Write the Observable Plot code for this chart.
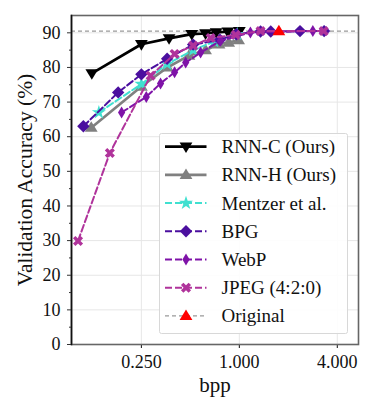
<!DOCTYPE html>
<html>
<head>
<meta charset="utf-8">
<script src="https://cdn.jsdelivr.net/npm/d3@7"></script>
<script src="https://cdn.jsdelivr.net/npm/@observablehq/plot@0.6"></script>
<style>
  html, body { margin: 0; padding: 0; background: #fff; }
  #chart svg { display: block; }
</style>
</head>
<body>
<div id="chart"></div>
<script>
// ---- data ----
const xTicks = [0.25, 1, 4];
const yTicks = [0, 10, 20, 30, 40, 50, 60, 70, 80, 90];
const yMinorTicks = [5, 15, 25, 35, 45, 55, 65, 75, 85];

const rnncBpp = [0.124, 0.25, 0.37, 0.51, 0.62, 0.72, 0.85, 1.0];
const rnncAcc = [78.3, 86.7, 88.4, 89.6, 89.8, 90.1, 90.3, 90.5];

const rnnhBpp = [0.123, 0.25, 0.361, 0.49, 0.62, 0.75, 0.86, 0.99];
const rnnhAcc = [62.6, 74.5, 80.0, 83.4, 85.0, 86.7, 87.2, 87.9];

const mentzerBpp = [0.137, 0.25, 0.36, 0.52, 0.70, 0.97];
const mentzerAcc = [67.0, 75.2, 81.0, 85.0, 87.5, 89.6];

const bpgBpp = [0.11, 0.18, 0.25, 0.36, 0.52, 0.76, 0.96, 1.35, 1.56, 2.36, 3.32];
const bpgAcc = [63.0, 72.8, 78.0, 82.5, 86.6, 88.0, 89.6, 90.4, 90.4, 90.5, 90.5];

const webpBpp = [0.189, 0.268, 0.328, 0.40, 0.468, 0.578, 0.766, 1.17, 2.83];
const webpAcc = [67.0, 71.5, 75.4, 78.6, 81.4, 84.3, 87.7, 90.1, 90.5];

const jpegBpp = [0.102, 0.16, 0.285, 0.40, 0.52, 0.666, 0.95, 1.35, 3.3];
const jpegAcc = [29.9, 55.3, 77.6, 83.9, 86.3, 88.5, 89.4, 90.5, 90.5];

const originalBpp = [1.75];
const originalAcc = [90.5];

const seriesNames = ["RNN-C (Ours)", "RNN-H (Ours)", "Mentzer et al.", "BPG", "WebP", "JPEG (4:2:0)", "Original"];

// ---- marker shapes ----
function poly(ctx, pts) {
  ctx.moveTo(pts[0][0], pts[0][1]);
  for (let i = 1; i < pts.length; i++) ctx.lineTo(pts[i][0], pts[i][1]);
  ctx.closePath();
}
const triDown = { draw(ctx, size) { const r = Math.sqrt(size / Math.PI); poly(ctx, [[-r, -0.65 * r], [r, -0.65 * r], [0, r]]); } };
const triUp = { draw(ctx, size) { const r = Math.sqrt(size / Math.PI); poly(ctx, [[-r, 0.65 * r], [r, 0.65 * r], [0, -r]]); } };
const diamond = { draw(ctx, size) { const r = Math.sqrt(size / Math.PI); poly(ctx, [[0, -r], [r, 0], [0, r], [-r, 0]]); } };
const thinDiamond = { draw(ctx, size) { const r = Math.sqrt(size / Math.PI); poly(ctx, [[0, -r], [0.6 * r, 0], [0, r], [-0.6 * r, 0]]); } };
const xFilled = { draw(ctx, size) {
  const r = Math.sqrt(size / Math.PI), w = 0.32 * r;
  const base = [[-w, -r], [w, -r], [w, -w], [r, -w], [r, w], [w, w], [w, r], [-w, r], [-w, w], [-r, w], [-r, -w], [-w, -w]];
  const c = Math.SQRT1_2;
  poly(ctx, base.map(([x, y]) => [c * (x - y), c * (x + y)]));
} };

const series = [
  { name: seriesNames[0], bpp: rnncBpp, acc: rnncAcc, color: "#000000", dash: null, width: 2.7, symbol: triDown, r: 6.4 },
  { name: seriesNames[1], bpp: rnnhBpp, acc: rnnhAcc, color: "#808080", dash: null, width: 2.7, symbol: triUp, r: 6.4 },
  { name: seriesNames[2], bpp: mentzerBpp, acc: mentzerAcc, color: "#40e0d0", dash: "7,3", width: 2, symbol: d3.symbolStar, r: 4.4 },
  { name: seriesNames[3], bpp: bpgBpp, acc: bpgAcc, color: "#4b0f9f", dash: "7,3", width: 2, symbol: diamond, r: 6.2 },
  { name: seriesNames[4], bpp: webpBpp, acc: webpAcc, color: "#7f13a8", dash: "7,3", width: 2, symbol: thinDiamond, r: 6.0 },
  { name: seriesNames[5], bpp: jpegBpp, acc: jpegAcc, color: "#b0339b", dash: "7,3", width: 2, symbol: xFilled, r: 5.4 },
  { name: seriesNames[6], bpp: originalBpp, acc: originalAcc, color: "#ff0000", dash: "4,3", width: 1.4, symbol: triUp, r: 6.4, lineColor: "#999999" }
];

const rows = s => s.bpp.map((b, i) => ({ bpp: b, acc: s.acc[i] }));

const marks = [
  Plot.gridY(yTicks, { stroke: "#e6e6e6", strokeOpacity: 1, strokeWidth: 1 }),
  Plot.ruleY(originalAcc, { stroke: "#999999", strokeWidth: 1.4, strokeDasharray: "4,3" })
];
for (const s of series.slice(0, 6)) {
  marks.push(Plot.line(rows(s), { x: "bpp", y: "acc", stroke: s.color, strokeWidth: s.width, strokeDasharray: s.dash, curve: "linear" }));
  marks.push(Plot.dot(rows(s), { x: "bpp", y: "acc", symbol: s.symbol, fill: s.color, stroke: "none", r: s.r }));
}
const orig = series[6];
marks.push(Plot.dot(rows(orig), { x: "bpp", y: "acc", symbol: orig.symbol, fill: orig.color, stroke: "none", r: orig.r }));

marks.push(
  Plot.axisY(yTicks, { tickSize: 4, tickPadding: 7, label: null, stroke: "#333" }),
  Plot.axisY(yMinorTicks, { tickSize: 2, tickFormat: () => "", label: null, stroke: "#333" }),
  Plot.frame({ stroke: "#666666", strokeWidth: 1.6 }),
  Plot.frame({ anchor: "left", stroke: "#111111", strokeWidth: 1.6 }),
  Plot.text(["Validation Accuracy (%)"], { frameAnchor: "left", textAnchor: "middle", dx: -46, rotate: -90, fontSize: 21.5, fill: "#111" }),
  Plot.text(["bpp"], { frameAnchor: "bottom", lineAnchor: "bottom", dy: 47.5, fontSize: 21, fill: "#111" })
);

const chart = Plot.plot({
  width: 374,
  height: 413,
  marginLeft: 71,
  marginRight: 16,
  marginTop: 15,
  marginBottom: 69,
  style: { fontFamily: "'Liberation Serif', 'DejaVu Serif', serif", fontSize: "18px", color: "#111", background: "#fff" },
  x: { type: "log", domain: [0.093, 5.4], ticks: xTicks, tickFormat: d3.format(".3f"), tickSize: 4, tickPadding: 7, grid: true, label: null },
  y: { domain: [0, 95], label: null },
  marks
});
document.getElementById("chart").appendChild(chart);

// ---- legend (inside the plot frame, like the reference) ----
const svg = d3.select(chart);
const lg = svg.append("g").attr("font-family", "'Liberation Serif', 'DejaVu Serif', serif").attr("font-size", 19).attr("text-anchor", "start");
lg.append("rect")
  .attr("x", 159.5).attr("y", 133.5).attr("width", 188).attr("height", 200)
  .attr("rx", 2).attr("fill", "#fff").attr("fill-opacity", 0.9)
  .attr("stroke", "#d8d8d8").attr("stroke-width", 1);
series.forEach((s, i) => {
  const cy = 146.7 + i * 28.2;
  const g = lg.append("g").attr("transform", `translate(0,${cy})`);
  g.append("line").attr("x1", 165).attr("x2", 206.5).attr("y1", 0).attr("y2", 0)
    .attr("stroke", s.lineColor || s.color).attr("stroke-width", s.width)
    .attr("stroke-dasharray", s.dash);
  g.append("path").attr("transform", "translate(186,0)")
    .attr("d", d3.symbol(s.symbol, s.r * s.r * Math.PI)())
    .attr("fill", s.color);
  g.append("text").attr("x", 221.5).attr("y", 6.5).attr("fill", "#111").text(s.name);
});
</script>
</body>
</html>
